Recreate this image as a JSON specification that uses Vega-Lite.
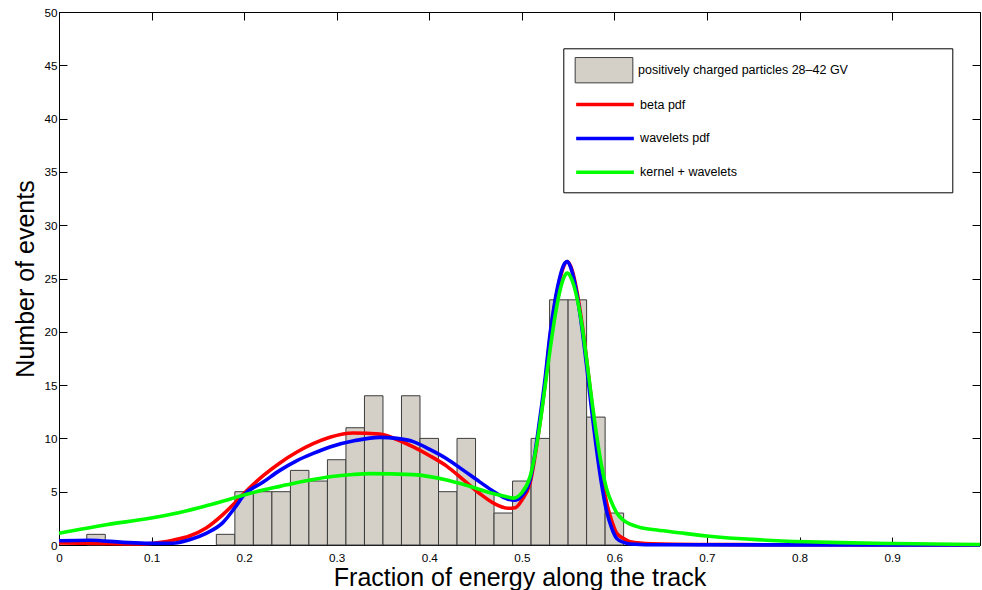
{
  "$schema": "https://vega.github.io/schema/vega-lite/v6.json",
  "width": 921,
  "height": 533,
  "autosize": {"type": "none"},
  "padding": {"left": 59, "top": 12, "right": 2, "bottom": 45},
  "background": "white",
  "config": {
    "font": "Liberation Sans",
    "view": {"stroke": "#000000", "strokeWidth": 1},
    "axis": {
      "labelColor": "#000000", "tickColor": "#000000", "domainColor": "#000000",
      "labelFont": "Liberation Sans", "titleFont": "Liberation Sans",
      "labelFontSize": 11.7, "titleFontSize": 25, "titleFontWeight": "normal", "titleColor": "#000000",
      "grid": false, "labelFlush": false, "labelOverlap": false
    },
    "legend": {"labelFont": "Liberation Sans", "labelFontSize": 12.5, "labelColor": "#000000", "labelLimit": 400}
  },
  "datasets": {
    "hist": [
      {"bin_start": 0.03, "bin_end": 0.05, "count": 1, "series": "positively charged particles 28–42 GV"},
      {"bin_start": 0.17, "bin_end": 0.19, "count": 1, "series": "positively charged particles 28–42 GV"},
      {"bin_start": 0.19, "bin_end": 0.21, "count": 5, "series": "positively charged particles 28–42 GV"},
      {"bin_start": 0.21, "bin_end": 0.23, "count": 5, "series": "positively charged particles 28–42 GV"},
      {"bin_start": 0.23, "bin_end": 0.25, "count": 5, "series": "positively charged particles 28–42 GV"},
      {"bin_start": 0.25, "bin_end": 0.27, "count": 7, "series": "positively charged particles 28–42 GV"},
      {"bin_start": 0.27, "bin_end": 0.29, "count": 6, "series": "positively charged particles 28–42 GV"},
      {"bin_start": 0.29, "bin_end": 0.31, "count": 8, "series": "positively charged particles 28–42 GV"},
      {"bin_start": 0.31, "bin_end": 0.33, "count": 11, "series": "positively charged particles 28–42 GV"},
      {"bin_start": 0.33, "bin_end": 0.35, "count": 14, "series": "positively charged particles 28–42 GV"},
      {"bin_start": 0.35, "bin_end": 0.37, "count": 10, "series": "positively charged particles 28–42 GV"},
      {"bin_start": 0.37, "bin_end": 0.39, "count": 14, "series": "positively charged particles 28–42 GV"},
      {"bin_start": 0.39, "bin_end": 0.41, "count": 10, "series": "positively charged particles 28–42 GV"},
      {"bin_start": 0.41, "bin_end": 0.43, "count": 5, "series": "positively charged particles 28–42 GV"},
      {"bin_start": 0.43, "bin_end": 0.45, "count": 10, "series": "positively charged particles 28–42 GV"},
      {"bin_start": 0.45, "bin_end": 0.47, "count": 5, "series": "positively charged particles 28–42 GV"},
      {"bin_start": 0.47, "bin_end": 0.49, "count": 3, "series": "positively charged particles 28–42 GV"},
      {"bin_start": 0.49, "bin_end": 0.51, "count": 6, "series": "positively charged particles 28–42 GV"},
      {"bin_start": 0.51, "bin_end": 0.53, "count": 10, "series": "positively charged particles 28–42 GV"},
      {"bin_start": 0.53, "bin_end": 0.55, "count": 23, "series": "positively charged particles 28–42 GV"},
      {"bin_start": 0.55, "bin_end": 0.57, "count": 23, "series": "positively charged particles 28–42 GV"},
      {"bin_start": 0.57, "bin_end": 0.59, "count": 12, "series": "positively charged particles 28–42 GV"},
      {"bin_start": 0.59, "bin_end": 0.61, "count": 3, "series": "positively charged particles 28–42 GV"}
    ],
    "curves": [
      {"series": "beta pdf", "x": 0, "y": 0.2},
      {"series": "beta pdf", "x": 0.03, "y": 0.17},
      {"series": "beta pdf", "x": 0.06, "y": 0.12},
      {"series": "beta pdf", "x": 0.09, "y": 0.1},
      {"series": "beta pdf", "x": 0.11, "y": 0.25},
      {"series": "beta pdf", "x": 0.123, "y": 0.45},
      {"series": "beta pdf", "x": 0.141, "y": 0.85},
      {"series": "beta pdf", "x": 0.159, "y": 1.6},
      {"series": "beta pdf", "x": 0.177, "y": 2.85},
      {"series": "beta pdf", "x": 0.19, "y": 3.95},
      {"series": "beta pdf", "x": 0.2, "y": 4.85},
      {"series": "beta pdf", "x": 0.2206, "y": 6.5},
      {"series": "beta pdf", "x": 0.2386, "y": 7.7},
      {"series": "beta pdf", "x": 0.2566, "y": 8.7},
      {"series": "beta pdf", "x": 0.2746, "y": 9.5},
      {"series": "beta pdf", "x": 0.2927, "y": 10.1},
      {"series": "beta pdf", "x": 0.318, "y": 10.5},
      {"series": "beta pdf", "x": 0.3467, "y": 10.4},
      {"series": "beta pdf", "x": 0.365, "y": 9.9},
      {"series": "beta pdf", "x": 0.3827, "y": 9.2},
      {"series": "beta pdf", "x": 0.4, "y": 8.4},
      {"series": "beta pdf", "x": 0.4188, "y": 7.4},
      {"series": "beta pdf", "x": 0.437, "y": 6.1},
      {"series": "beta pdf", "x": 0.4548, "y": 4.8},
      {"series": "beta pdf", "x": 0.47, "y": 3.9},
      {"series": "beta pdf", "x": 0.485, "y": 3.45},
      {"series": "beta pdf", "x": 0.493, "y": 3.5},
      {"series": "beta pdf", "x": 0.5, "y": 4.2},
      {"series": "beta pdf", "x": 0.5089, "y": 5.8},
      {"series": "beta pdf", "x": 0.5197, "y": 11.5},
      {"series": "beta pdf", "x": 0.525, "y": 15},
      {"series": "beta pdf", "x": 0.5305, "y": 19.5},
      {"series": "beta pdf", "x": 0.536, "y": 22.8},
      {"series": "beta pdf", "x": 0.5413, "y": 25.0},
      {"series": "beta pdf", "x": 0.5455, "y": 26.2},
      {"series": "beta pdf", "x": 0.5492, "y": 26.6},
      {"series": "beta pdf", "x": 0.553, "y": 26.1},
      {"series": "beta pdf", "x": 0.5593, "y": 23.9},
      {"series": "beta pdf", "x": 0.565, "y": 20.8},
      {"series": "beta pdf", "x": 0.57, "y": 17.4},
      {"series": "beta pdf", "x": 0.575, "y": 13.8},
      {"series": "beta pdf", "x": 0.581, "y": 9.5},
      {"series": "beta pdf", "x": 0.586, "y": 6.5},
      {"series": "beta pdf", "x": 0.5918, "y": 3.9},
      {"series": "beta pdf", "x": 0.597, "y": 2.3},
      {"series": "beta pdf", "x": 0.6026, "y": 1.1},
      {"series": "beta pdf", "x": 0.61, "y": 0.6},
      {"series": "beta pdf", "x": 0.617, "y": 0.3},
      {"series": "beta pdf", "x": 0.64, "y": 0.12},
      {"series": "beta pdf", "x": 0.7, "y": 0.05},
      {"series": "beta pdf", "x": 0.8, "y": 0.02},
      {"series": "beta pdf", "x": 0.995, "y": 0},
      {"series": "wavelets pdf", "x": 0, "y": 0.4},
      {"series": "wavelets pdf", "x": 0.033, "y": 0.45},
      {"series": "wavelets pdf", "x": 0.069, "y": 0.25},
      {"series": "wavelets pdf", "x": 0.098, "y": 0.15},
      {"series": "wavelets pdf", "x": 0.123, "y": 0.17},
      {"series": "wavelets pdf", "x": 0.141, "y": 0.5},
      {"series": "wavelets pdf", "x": 0.159, "y": 1.1},
      {"series": "wavelets pdf", "x": 0.177, "y": 2.1},
      {"series": "wavelets pdf", "x": 0.19, "y": 3.5},
      {"series": "wavelets pdf", "x": 0.2, "y": 4.7},
      {"series": "wavelets pdf", "x": 0.2206, "y": 5.9},
      {"series": "wavelets pdf", "x": 0.2386, "y": 7.0},
      {"series": "wavelets pdf", "x": 0.2566, "y": 7.9},
      {"series": "wavelets pdf", "x": 0.2746, "y": 8.6},
      {"series": "wavelets pdf", "x": 0.2927, "y": 9.2},
      {"series": "wavelets pdf", "x": 0.32, "y": 9.8},
      {"series": "wavelets pdf", "x": 0.3467, "y": 10.1},
      {"series": "wavelets pdf", "x": 0.365, "y": 10.0},
      {"series": "wavelets pdf", "x": 0.3827, "y": 9.7},
      {"series": "wavelets pdf", "x": 0.4, "y": 9.0},
      {"series": "wavelets pdf", "x": 0.4188, "y": 8.1},
      {"series": "wavelets pdf", "x": 0.437, "y": 7.0},
      {"series": "wavelets pdf", "x": 0.4548, "y": 5.9},
      {"series": "wavelets pdf", "x": 0.47, "y": 5.0},
      {"series": "wavelets pdf", "x": 0.485, "y": 4.3},
      {"series": "wavelets pdf", "x": 0.493, "y": 4.2},
      {"series": "wavelets pdf", "x": 0.5, "y": 4.6},
      {"series": "wavelets pdf", "x": 0.5089, "y": 6.1},
      {"series": "wavelets pdf", "x": 0.5197, "y": 12},
      {"series": "wavelets pdf", "x": 0.525, "y": 15.5},
      {"series": "wavelets pdf", "x": 0.5305, "y": 19.8},
      {"series": "wavelets pdf", "x": 0.536, "y": 23},
      {"series": "wavelets pdf", "x": 0.5413, "y": 25.2},
      {"series": "wavelets pdf", "x": 0.5455, "y": 26.3},
      {"series": "wavelets pdf", "x": 0.5492, "y": 26.6},
      {"series": "wavelets pdf", "x": 0.553, "y": 26.0},
      {"series": "wavelets pdf", "x": 0.5593, "y": 23.6},
      {"series": "wavelets pdf", "x": 0.565, "y": 20.3},
      {"series": "wavelets pdf", "x": 0.57, "y": 16.8},
      {"series": "wavelets pdf", "x": 0.575, "y": 13.0},
      {"series": "wavelets pdf", "x": 0.581, "y": 8.8},
      {"series": "wavelets pdf", "x": 0.586, "y": 5.8},
      {"series": "wavelets pdf", "x": 0.5918, "y": 3.1},
      {"series": "wavelets pdf", "x": 0.597, "y": 1.6},
      {"series": "wavelets pdf", "x": 0.6026, "y": 0.6},
      {"series": "wavelets pdf", "x": 0.61, "y": 0.25},
      {"series": "wavelets pdf", "x": 0.617, "y": 0.1},
      {"series": "wavelets pdf", "x": 0.65, "y": 0.02},
      {"series": "wavelets pdf", "x": 0.995, "y": 0},
      {"series": "kernel + wavelets", "x": 0, "y": 1.1},
      {"series": "kernel + wavelets", "x": 0.051, "y": 1.9},
      {"series": "kernel + wavelets", "x": 0.098, "y": 2.5},
      {"series": "kernel + wavelets", "x": 0.1305, "y": 3.05},
      {"series": "kernel + wavelets", "x": 0.16, "y": 3.7},
      {"series": "kernel + wavelets", "x": 0.1845, "y": 4.3},
      {"series": "kernel + wavelets", "x": 0.2, "y": 4.7},
      {"series": "kernel + wavelets", "x": 0.2206, "y": 5.15},
      {"series": "kernel + wavelets", "x": 0.2386, "y": 5.5},
      {"series": "kernel + wavelets", "x": 0.2566, "y": 5.85},
      {"series": "kernel + wavelets", "x": 0.2746, "y": 6.15},
      {"series": "kernel + wavelets", "x": 0.2927, "y": 6.4},
      {"series": "kernel + wavelets", "x": 0.3175, "y": 6.62},
      {"series": "kernel + wavelets", "x": 0.336, "y": 6.7},
      {"series": "kernel + wavelets", "x": 0.3827, "y": 6.6},
      {"series": "kernel + wavelets", "x": 0.4188, "y": 6.1},
      {"series": "kernel + wavelets", "x": 0.44, "y": 5.6},
      {"series": "kernel + wavelets", "x": 0.4548, "y": 5.2},
      {"series": "kernel + wavelets", "x": 0.4656, "y": 4.9},
      {"series": "kernel + wavelets", "x": 0.48, "y": 4.6},
      {"series": "kernel + wavelets", "x": 0.491, "y": 4.4},
      {"series": "kernel + wavelets", "x": 0.5, "y": 4.9},
      {"series": "kernel + wavelets", "x": 0.5089, "y": 6.4},
      {"series": "kernel + wavelets", "x": 0.5197, "y": 11.4},
      {"series": "kernel + wavelets", "x": 0.525, "y": 14.8},
      {"series": "kernel + wavelets", "x": 0.5305, "y": 18.3},
      {"series": "kernel + wavelets", "x": 0.536, "y": 21.5},
      {"series": "kernel + wavelets", "x": 0.5413, "y": 23.9},
      {"series": "kernel + wavelets", "x": 0.5455, "y": 25.1},
      {"series": "kernel + wavelets", "x": 0.5492, "y": 25.5},
      {"series": "kernel + wavelets", "x": 0.553, "y": 25.1},
      {"series": "kernel + wavelets", "x": 0.5593, "y": 23.3},
      {"series": "kernel + wavelets", "x": 0.565, "y": 20.6},
      {"series": "kernel + wavelets", "x": 0.57, "y": 17.4},
      {"series": "kernel + wavelets", "x": 0.575, "y": 14.0},
      {"series": "kernel + wavelets", "x": 0.581, "y": 10.2},
      {"series": "kernel + wavelets", "x": 0.586, "y": 7.5},
      {"series": "kernel + wavelets", "x": 0.5918, "y": 5.2},
      {"series": "kernel + wavelets", "x": 0.597, "y": 4.0},
      {"series": "kernel + wavelets", "x": 0.6026, "y": 3.0},
      {"series": "kernel + wavelets", "x": 0.61, "y": 2.3},
      {"series": "kernel + wavelets", "x": 0.617, "y": 1.95},
      {"series": "kernel + wavelets", "x": 0.6277, "y": 1.65},
      {"series": "kernel + wavelets", "x": 0.646, "y": 1.4},
      {"series": "kernel + wavelets", "x": 0.67, "y": 1.15},
      {"series": "kernel + wavelets", "x": 0.7, "y": 0.85},
      {"series": "kernel + wavelets", "x": 0.754, "y": 0.5},
      {"series": "kernel + wavelets", "x": 0.808, "y": 0.3},
      {"series": "kernel + wavelets", "x": 0.844, "y": 0.22},
      {"series": "kernel + wavelets", "x": 0.9, "y": 0.14},
      {"series": "kernel + wavelets", "x": 0.995, "y": 0.05}
    ]
  },
  "resolve": {"axis": {"x": "independent", "y": "independent"}},
  "layer": [
    {
      "data": {"name": "hist"},
      "mark": {"type": "bar", "stroke": "#3c3c3c", "strokeWidth": 1, "opacity": 1},
      "encoding": {
        "x": {"field": "bin_start", "type": "quantitative", "scale": {"domain": [0, 0.995], "nice": false, "zero": false},
          "axis": {"orient": "bottom", "values": [0, 0.1, 0.2, 0.3, 0.4, 0.5, 0.6, 0.7, 0.8, 0.9], "format": ".1~f",
            "tickSize": -8, "labelPadding": 15, "title": "Fraction of energy along the track", "titlePadding": 2}},
        "x2": {"field": "bin_end"},
        "y": {"field": "count", "type": "quantitative", "scale": {"domain": [0, 50], "nice": false},
          "axis": {"orient": "left", "values": [0, 5, 10, 15, 20, 25, 30, 35, 40, 45, 50],
            "tickSize": -8, "labelPadding": 10, "title": "Number of events", "titlePadding": 5}},
        "y2": {"datum": 0},
        "fill": {"field": "series", "type": "nominal",
          "scale": {"domain": ["positively charged particles 28–42 GV"], "range": ["#d4d0c8"]},
          "legend": {
            "orient": "none", "legendX": 504.3, "legendY": 36.3,
            "title": " ", "titleOrient": "right", "titlePadding": 95.7, "titleFontSize": 128, "titleAnchor": "start",
            "strokeColor": "#000000", "fillColor": "#ffffff", "padding": 8.4,
            "symbolType": "M-2.28,-1H2.28V1H-2.28Z", "symbolSize": 640,
            "symbolStrokeColor": "#3c3c3c", "symbolStrokeWidth": 1, "symbolOpacity": 1,
            "symbolOffset": 18.8, "labelOffset": 20.6
          }}
      }
    },
    {
      "data": {"name": "curves"},
      "transform": [{"filter": "datum.series === 'beta pdf'"}],
      "mark": {"type": "line", "strokeWidth": 3.6, "interpolate": "monotone"},
      "encoding": {
        "x": {"field": "x", "type": "quantitative", "axis": {"orient": "top", "labels": false, "domain": false, "tickSize": -8, "values": [0, 0.1, 0.2, 0.3, 0.4, 0.5, 0.6, 0.7, 0.8, 0.9], "title": null}},
        "y": {"field": "y", "type": "quantitative", "axis": {"orient": "right", "labels": false, "domain": false, "tickSize": -8, "values": [0, 5, 10, 15, 20, 25, 30, 35, 40, 45, 50], "title": null}},
        "stroke": {"field": "series", "type": "nominal",
          "scale": {"domain": ["beta pdf", "wavelets pdf", "kernel + wavelets"], "range": ["#ff0000", "#0000ff", "#00ff00"]},
          "legend": {
            "orient": "none", "legendX": 512.7, "legendY": 78.05, "title": null,
            "padding": 0, "strokeColor": "transparent", "fillColor": "transparent",
            "symbolType": "M-2.28,0H2.28", "symbolSize": 640, "symbolStrokeWidth": 3.5, "symbolOpacity": 1,
            "rowPadding": 11.9, "symbolOffset": 18.8, "labelOffset": 20.6
          }}
      }
    },
    {
      "data": {"name": "curves"},
      "transform": [{"filter": "datum.series === 'wavelets pdf'"}],
      "mark": {"type": "line", "strokeWidth": 3.6, "interpolate": "monotone"},
      "encoding": {
        "x": {"field": "x", "type": "quantitative", "axis": null},
        "y": {"field": "y", "type": "quantitative", "axis": null},
        "stroke": {"field": "series", "type": "nominal", "legend": null}
      }
    },
    {
      "data": {"name": "curves"},
      "transform": [{"filter": "datum.series === 'kernel + wavelets'"}],
      "mark": {"type": "line", "strokeWidth": 3.6, "interpolate": "monotone"},
      "encoding": {
        "x": {"field": "x", "type": "quantitative", "axis": null},
        "y": {"field": "y", "type": "quantitative", "axis": null},
        "stroke": {"field": "series", "type": "nominal", "legend": null}
      }
    }
  ]
}
